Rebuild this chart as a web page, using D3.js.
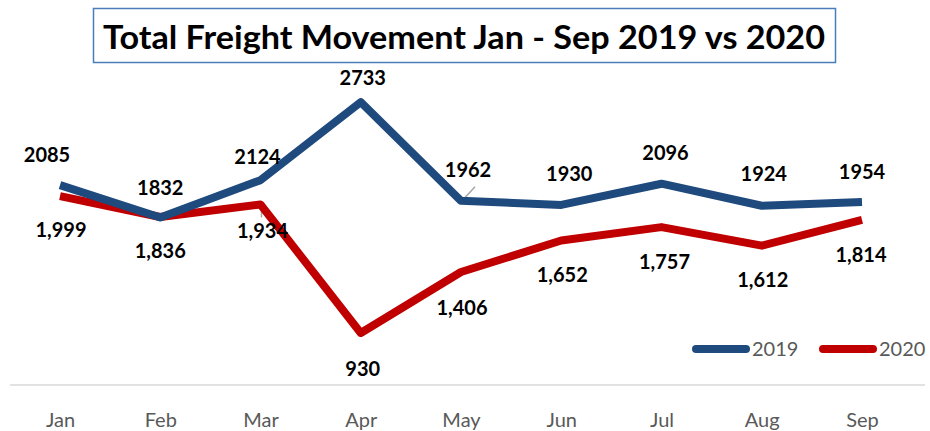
<!DOCTYPE html>
<html>
<head>
<meta charset="utf-8">
<script src="https://cdn.jsdelivr.net/npm/d3@7"></script>
<style>
  html, body { margin: 0; padding: 0; background: #fff; }
  svg { display: block; font-family: Lato, "Open Sans", sans-serif; }
</style>
</head>
<body>
<svg id="chart" width="930" height="431"></svg>
<script>
// Data
const months = ["Jan", "Feb", "Mar", "Apr", "May", "Jun", "Jul", "Aug", "Sep"];
const values2019 = [2085, 1832, 2124, 2733, 1962, 1930, 2096, 1924, 1954];
const values2020 = [1999, 1836, 1934, 930, 1406, 1652, 1757, 1612, 1814];
const seriesNames = ["2019", "2020"];

const width = 930;
const height = 431;
const blue = "#1f4a7e";
const red = "#c00000";

const svg = d3.select("#chart");

const x = d3.scalePoint()
    .domain(months)
    .range([60, 862]);

const y = d3.scaleLinear()
    .domain([0, 3000])
    .range([452, 68]);

// Title box
svg.append("rect")
    .attr("x", 93.5)
    .attr("y", 8.5)
    .attr("width", 742)
    .attr("height", 54)
    .attr("fill", "#fff")
    .attr("stroke", "#4a7ebb")
    .attr("stroke-width", 1.5);

svg.append("text")
    .attr("x", 464)
    .attr("y", 49)
    .attr("text-anchor", "middle")
    .attr("font-size", "32px")
    .attr("font-weight", "bold")
    .attr("fill", "#000")
    .attr("textLength", 722)
    .attr("lengthAdjust", "spacingAndGlyphs")
    .text("Total Freight Movement Jan - Sep 2019 vs 2020");

// X axis (baseline only, labels below)
const xAxis = svg.append("g")
    .attr("transform", "translate(0,385)")
    .call(d3.axisBottom(x).tickSize(0).tickPadding(28));
xAxis.select(".domain")
    .attr("d", "M10,0H925")
    .attr("stroke", "#d9d9d9")
    .attr("stroke-width", 1.5);
xAxis.selectAll("text")
    .attr("font-family", "Lato, 'Open Sans', sans-serif")
    .attr("font-size", "20px")
    .attr("fill", "#595959");

const line = d3.line()
    .x((d, i) => x(months[i]))
    .y(d => y(d));

// Leader lines
svg.append("line")
    .attr("x1", x("Mar") + 1).attr("x2", x("Mar") + 1)
    .attr("y1", y(values2020[2]) + 1).attr("y2", y(values2020[2]) + 13)
    .attr("stroke", "#a6a6a6").attr("stroke-width", 1.5);
svg.append("line")
    .attr("x1", x("May") + 2).attr("x2", x("May") + 14)
    .attr("y1", y(values2019[4]) - 1).attr("y2", y(values2019[4]) - 14)
    .attr("stroke", "#a6a6a6").attr("stroke-width", 1.5);

svg.append("path")
    .datum(values2020)
    .attr("d", line)
    .attr("fill", "none")
    .attr("stroke", red)
    .attr("stroke-width", 8)
    .attr("stroke-linejoin", "round");

svg.append("path")
    .datum(values2019)
    .attr("d", line)
    .attr("fill", "none")
    .attr("stroke", blue)
    .attr("stroke-width", 8)
    .attr("stroke-linejoin", "round");

// Label offsets
const dx2019 = [-13, 0, -3, 2, 7, 8, 4, 2, 0];
const dy2019 = [-30, -30, -23, -24, -31, -31, -31, -32, -30];
const dx2020 = [1, 0, 2, 2, 1, 1, 3, 1, -1];
const dy2020 = [34, 34, 27, 36, 36, 34, 35, 34, 35];

svg.selectAll(".lab2019")
    .data(values2019)
    .enter()
    .append("text")
    .attr("class", "lab2019")
    .attr("x", (d, i) => x(months[i]) + dx2019[i])
    .attr("y", (d, i) => y(d) + dy2019[i])
    .attr("dy", "0.35em")
    .attr("text-anchor", "middle")
    .attr("font-size", "20px")
    .attr("font-weight", "bold")
    .attr("fill", "#000")
    .text(d => d);

svg.selectAll(".lab2020")
    .data(values2020)
    .enter()
    .append("text")
    .attr("class", "lab2020")
    .attr("x", (d, i) => x(months[i]) + dx2020[i])
    .attr("y", (d, i) => y(d) + dy2020[i])
    .attr("dy", "0.35em")
    .attr("text-anchor", "middle")
    .attr("font-size", "20px")
    .attr("font-weight", "bold")
    .attr("fill", "#000")
    .text(d => d3.format(",")(d));

// Legend
const legend = svg.append("g");
const legendX = [692, 819];
seriesNames.forEach((name, i) => {
    legend.append("line")
        .attr("x1", legendX[i] + 4).attr("x2", legendX[i] + 54)
        .attr("y1", 349).attr("y2", 349)
        .attr("stroke", i === 0 ? blue : red)
        .attr("stroke-width", 8)
        .attr("stroke-linecap", "round");
    legend.append("text")
        .attr("x", legendX[i] + 60)
        .attr("y", 349)
        .attr("dy", "0.35em")
        .attr("font-size", "20px")
        .attr("fill", "#595959")
        .text(name);
});
</script>
</body>
</html>
